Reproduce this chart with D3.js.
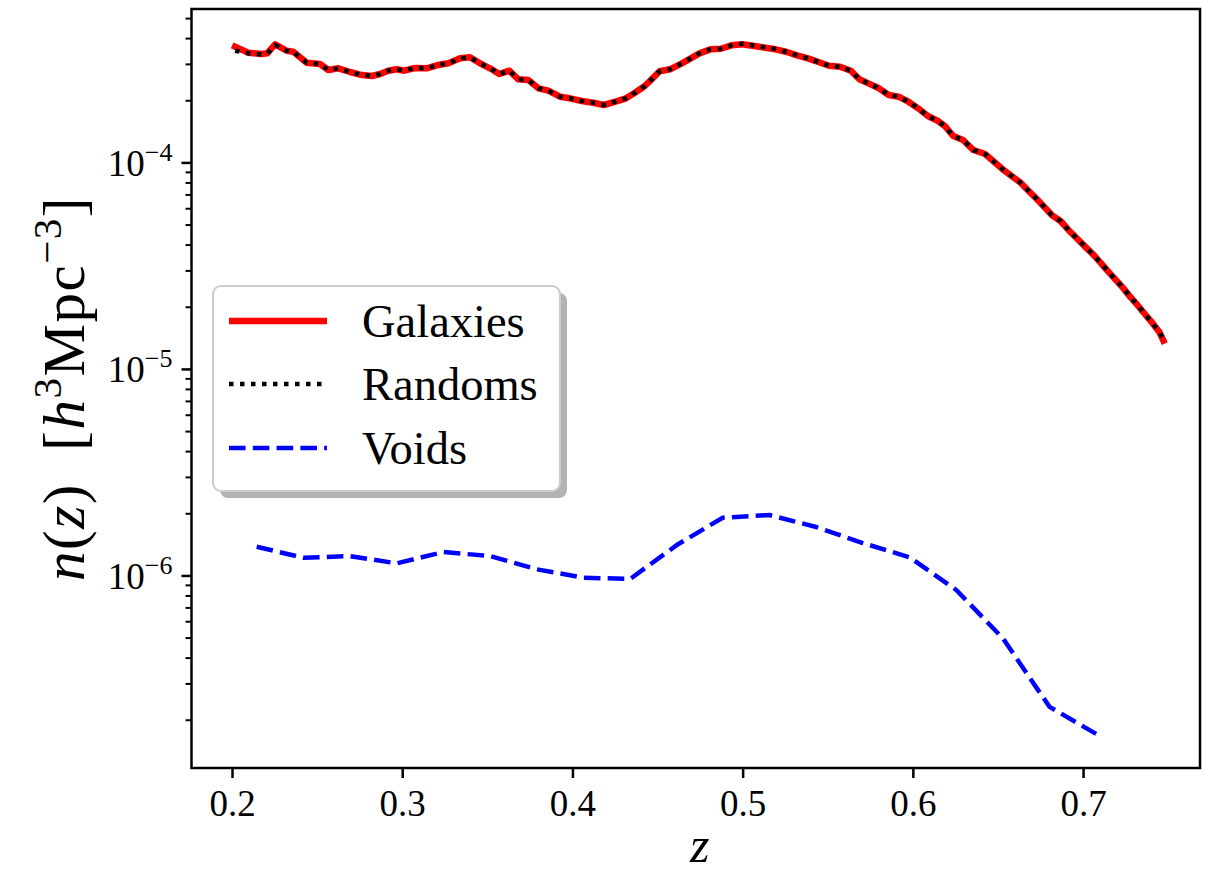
<!DOCTYPE html>
<html>
<head>
<meta charset="utf-8">
<script src="https://cdn.jsdelivr.net/npm/d3@7"></script>
<style>
  html, body { margin: 0; padding: 0; background: #fff; }
  svg { display: block; }
  text { font-family: "Liberation Serif", "DejaVu Serif", serif; fill: #000; }
</style>
</head>
<body>
<svg id="chart" width="1220" height="879"></svg>
<script>
// ---------------- data ----------------
const galaxyZ = [0.2018,0.2096,0.2174,0.2207,0.2253,0.2321,0.2360,0.2439,0.2517,0.2566,0.2625,0.2693,0.2752,0.2821,0.2870,0.2918,0.2968,0.3011,0.3075,0.3144,0.3203,0.3271,0.3340,0.3398,0.3457,0.3516,0.3570,0.3629,0.3682,0.3741,0.3800,0.3858,0.3927,0.3986,0.4055,0.4123,0.4184,0.4253,0.4310,0.4367,0.4425,0.4471,0.4512,0.4573,0.4643,0.4695,0.4746,0.4810,0.4872,0.4934,0.4998,0.5067,0.5132,0.5193,0.5255,0.5320,0.5384,0.5445,0.5508,0.5572,0.5636,0.5686,0.5739,0.5801,0.5858,0.5916,0.5974,0.6031,0.6088,0.6145,0.6192,0.6237,0.6295,0.6356,0.6424,0.6477,0.6528,0.6581,0.6630,0.6679,0.6728,0.6771,0.6816,0.6869,0.6914,0.6963,0.7012,0.7057,0.7100,0.7143,0.7188,0.7233,0.7276,0.7319,0.7364,0.7407,0.7448,0.7472];
const galaxyN = [3.634e-4,3.398e-4,3.349e-4,3.375e-4,3.733e-4,3.474e-4,3.436e-4,3.040e-4,2.996e-4,2.803e-4,2.856e-4,2.741e-4,2.660e-4,2.621e-4,2.680e-4,2.781e-4,2.825e-4,2.781e-4,2.866e-4,2.856e-4,2.953e-4,3.020e-4,3.192e-4,3.228e-4,3.020e-4,2.856e-4,2.680e-4,2.781e-4,2.526e-4,2.506e-4,2.285e-4,2.225e-4,2.081e-4,2.044e-4,1.983e-4,1.946e-4,1.897e-4,1.968e-4,2.035e-4,2.175e-4,2.344e-4,2.554e-4,2.762e-4,2.825e-4,3.020e-4,3.192e-4,3.375e-4,3.529e-4,3.553e-4,3.691e-4,3.733e-4,3.662e-4,3.593e-4,3.529e-4,3.436e-4,3.301e-4,3.192e-4,3.064e-4,2.940e-4,2.907e-4,2.781e-4,2.526e-4,2.415e-4,2.285e-4,2.121e-4,2.081e-4,1.968e-4,1.828e-4,1.678e-4,1.592e-4,1.489e-4,1.342e-4,1.284e-4,1.148e-4,1.098e-4,1.008e-4,9.26e-5,8.59e-5,8.01e-5,7.29e-5,6.65e-5,6.10e-5,5.56e-5,5.19e-5,4.71e-5,4.29e-5,3.91e-5,3.60e-5,3.29e-5,2.99e-5,2.72e-5,2.48e-5,2.24e-5,2.04e-5,1.84e-5,1.67e-5,1.51e-5,1.37e-5];
const randomZ = galaxyZ;
const randomN = [3.474e-4,3.380e-4,3.330e-4,3.360e-4,3.700e-4,3.474e-4,3.436e-4,3.040e-4,2.996e-4,2.803e-4,2.856e-4,2.741e-4,2.660e-4,2.621e-4,2.680e-4,2.781e-4,2.825e-4,2.781e-4,2.866e-4,2.856e-4,2.953e-4,3.020e-4,3.192e-4,3.228e-4,3.020e-4,2.856e-4,2.680e-4,2.781e-4,2.526e-4,2.506e-4,2.285e-4,2.225e-4,2.081e-4,2.044e-4,1.983e-4,1.946e-4,1.897e-4,1.968e-4,2.035e-4,2.175e-4,2.344e-4,2.554e-4,2.762e-4,2.825e-4,3.020e-4,3.192e-4,3.375e-4,3.529e-4,3.553e-4,3.691e-4,3.760e-4,3.680e-4,3.610e-4,3.540e-4,3.436e-4,3.301e-4,3.192e-4,3.064e-4,2.940e-4,2.907e-4,2.781e-4,2.526e-4,2.415e-4,2.285e-4,2.121e-4,2.081e-4,1.968e-4,1.828e-4,1.678e-4,1.592e-4,1.489e-4,1.342e-4,1.284e-4,1.148e-4,1.098e-4,1.008e-4,9.26e-5,8.59e-5,8.01e-5,7.29e-5,6.65e-5,6.10e-5,5.56e-5,5.19e-5,4.71e-5,4.29e-5,3.91e-5,3.60e-5,3.29e-5,2.99e-5,2.72e-5,2.48e-5,2.24e-5,2.04e-5,1.84e-5,1.67e-5,1.51e-5,1.40e-5];
const voidZ = [0.2145,0.2419,0.2693,0.2968,0.3242,0.3516,0.3791,0.4065,0.4339,0.4613,0.4883,0.5158,0.5432,0.5706,0.5981,0.6255,0.6529,0.6803,0.7078];
const voidN = [1.377e-6,1.218e-6,1.241e-6,1.144e-6,1.298e-6,1.241e-6,1.070e-6,9.75e-7,9.61e-7,1.403e-6,1.903e-6,1.961e-6,1.715e-6,1.435e-6,1.224e-6,8.50e-7,4.96e-7,2.31e-7,1.706e-7];
const xTickValues = [0.2,0.3,0.4,0.5,0.6,0.7];
const xTickLabels = ["0.2","0.3","0.4","0.5","0.6","0.7"];
const yMajorTicks = [1e-6,1e-5,1e-4];
const yMajorExps = ["\u22126","\u22125","\u22124"];
const seriesNames = ["Galaxies","Randoms","Voids"];

// ---------------- layout ----------------
const svg = d3.select("#chart");
const L = 191.5, R = 1200, T = 9, B = 768;
const x = d3.scaleLinear().domain([0.1762, 0.7687]).range([L, R]);
const y = d3.scaleLog().domain([1.168e-7, 5.533e-4]).range([B, T]);

const styles = [
  {color:"#ff0000", width:6.5, dash:null},
  {color:"#000000", width:4.5, dash:"4.5,6.5"},
  {color:"#0000ff", width:4.5, dash:"16.6,7.2"}
];

const series = [
  d3.zip(galaxyZ, galaxyN),
  d3.zip(randomZ, randomN),
  d3.zip(voidZ, voidN)
];

const line = d3.line().x(d => x(d[0])).y(d => y(d[1]));
const plot = svg.append("g");
plot.append("clipPath").attr("id","clip").append("rect")
  .attr("x",L).attr("y",T).attr("width",R-L).attr("height",B-T);

series.forEach((s,i) => {
  plot.append("path").datum(s)
    .attr("clip-path","url(#clip)")
    .attr("d", line)
    .attr("fill","none")
    .attr("stroke", styles[i].color)
    .attr("stroke-width", styles[i].width)
    .attr("stroke-dasharray", styles[i].dash)
    .attr("stroke-linejoin","round")
    .attr("stroke-linecap", i===0 ? "square" : "butt");
});

// ---------------- axes ----------------
const xAxis = d3.axisBottom(x).tickValues(xTickValues).tickSize(10).tickPadding(9)
  .tickFormat((d,i) => xTickLabels[i]);
const gx = svg.append("g").attr("transform",`translate(0,${B})`).call(xAxis);
gx.select(".domain").remove();
gx.selectAll(".tick line").attr("stroke","#000").attr("stroke-width",2.5);
gx.selectAll(".tick text").attr("font-size",37).attr("font-family",'"Liberation Serif", serif')
  .attr("dy","0.78em");

// y minor ticks
const minor = [];
for (let e = -8; e <= -3; e++) for (let k = 2; k <= 9; k++) {
  const v = k * Math.pow(10, e);
  if (v >= y.domain()[0] && v <= y.domain()[1]) minor.push(v);
}
const yMinor = d3.axisLeft(y).tickValues(minor).tickSize(6).tickFormat("");
const gym = svg.append("g").attr("transform",`translate(${L},0)`).call(yMinor);
gym.select(".domain").remove();
gym.selectAll(".tick line").attr("stroke","#000").attr("stroke-width",2);

const yAxis = d3.axisLeft(y).tickValues(yMajorTicks).tickSize(10).tickFormat("");
const gy = svg.append("g").attr("transform",`translate(${L},0)`).call(yAxis);
gy.select(".domain").remove();
gy.selectAll(".tick line").attr("stroke","#000").attr("stroke-width",2.5);
gy.selectAll(".tick").each(function(d,i){
  const t = d3.select(this).append("text")
    .attr("x", -19).attr("y", 13)
    .attr("text-anchor","end")
    .attr("font-size",37);
  t.append("tspan").text("10");
  t.append("tspan").attr("dy",-15).attr("font-size",26).text(yMajorExps[i]);
});

// frame
svg.append("rect").attr("x",L).attr("y",T).attr("width",R-L).attr("height",B-T)
  .attr("fill","none").attr("stroke","#000").attr("stroke-width",2.5);

// axis labels
svg.append("text").attr("x",(L+R)/2+4).attr("y",862).attr("text-anchor","middle")
  .attr("font-size",50).attr("font-style","italic").text("z");

const yl = svg.append("text").attr("transform",`translate(84,${(T+B)/2}) rotate(-90)`)
  .attr("text-anchor","middle").attr("font-size",59).attr("letter-spacing",1.5);
yl.append("tspan").attr("font-style","italic").text("n");
yl.append("tspan").text("(");
yl.append("tspan").attr("font-style","italic").text("z");
yl.append("tspan").text(")\u00a0\u00a0[");
yl.append("tspan").attr("font-style","italic").text("h");
yl.append("tspan").attr("dy",-23).attr("font-size",41).text("3");
yl.append("tspan").attr("dy",23).text("Mpc");
yl.append("tspan").attr("dy",-23).attr("font-size",41).text("\u22123");
yl.append("tspan").attr("dy",23).text("]");

// ---------------- legend ----------------
const lg = svg.append("g");
const bx = 213, by = 286, bw = 347, bh = 205;
lg.append("rect").attr("x",bx+7).attr("y",by+7).attr("width",bw).attr("height",bh)
  .attr("rx",8).attr("fill","#b3b3b3");
lg.append("rect").attr("x",bx).attr("y",by).attr("width",bw).attr("height",bh)
  .attr("rx",8).attr("fill","#fff").attr("stroke","#cccccc").attr("stroke-width",2);
const rowY = [321, 384, 448];
seriesNames.forEach((name,i) => {
  lg.append("line").attr("x1",229).attr("x2",327).attr("y1",rowY[i]).attr("y2",rowY[i])
    .attr("stroke",styles[i].color).attr("stroke-width",styles[i].width)
    .attr("stroke-dasharray",styles[i].dash);
  lg.append("text").attr("x",362).attr("y",rowY[i]+16).attr("font-size",46.5).text(name);
});
</script>
</body>
</html>
